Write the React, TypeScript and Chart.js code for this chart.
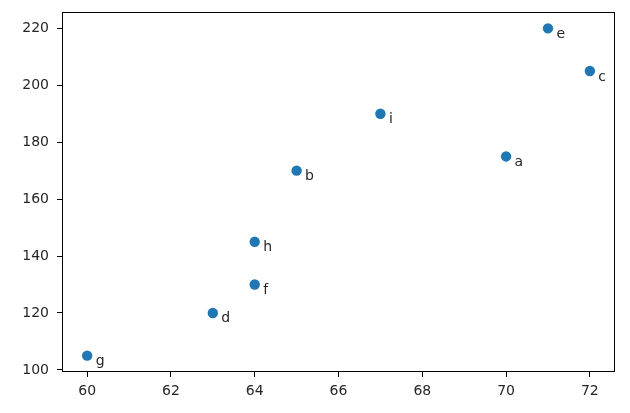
import React, { useEffect, useRef } from "react";
import { Chart, registerables } from "chart.js";

Chart.register(...registerables);

const pointLabels = ["a", "b", "c", "d", "e", "f", "g", "h", "i"];
const xValues = [70, 65, 72, 63, 71, 64, 60, 64, 67];
const yValues = [175, 170, 205, 120, 220, 130, 105, 145, 190];
const xTicks = [60, 62, 64, 66, 68, 70, 72];
const yTicks = [100, 120, 140, 160, 180, 200, 220];

const FONT = "DejaVu Sans";
const TEXT = "#262626";

export default function App() {
  const ref = useRef<HTMLCanvasElement | null>(null);

  useEffect(() => {
    document.body.style.margin = "0";
    const canvas = ref.current;
    if (!canvas) return;

    const spines = {
      id: "spines",
      afterDatasetsDraw(chart: any) {
        const { ctx, chartArea } = chart;
        ctx.save();
        ctx.strokeStyle = "#000";
        ctx.lineWidth = 1;
        ctx.strokeRect(
          Math.round(chartArea.left) + 0.5,
          Math.round(chartArea.top) + 0.5,
          Math.round(chartArea.right - chartArea.left) - 1,
          Math.round(chartArea.bottom - chartArea.top) - 1
        );
        ctx.restore();
      },
    };

    const annotations = {
      id: "annotations",
      afterDatasetsDraw(chart: any) {
        const { ctx, scales } = chart;
        ctx.save();
        ctx.fillStyle = TEXT;
        ctx.font = `14px "${FONT}"`;
        ctx.textAlign = "left";
        ctx.textBaseline = "alphabetic";
        pointLabels.forEach((lab, i) => {
          const px = scales.x.getPixelForValue(xValues[i]);
          const py = scales.y.getPixelForValue(yValues[i]);
          ctx.fillText(lab, px + 8.5, py + 9.5);
        });
        ctx.restore();
      },
    };

    const chart = new Chart(canvas, {
      type: "scatter",
      data: {
        datasets: [
          {
            data: xValues.map((x, i) => ({ x, y: yValues[i] })),
            backgroundColor: "#1f77b4",
            borderColor: "#1f77b4",
            borderWidth: 0,
            pointRadius: 5.2,
            pointHoverRadius: 5.2,
          },
        ],
      },
      options: {
        responsive: false,
        animation: false,
        events: [],
        layout: { padding: { top: 12, right: 15, left: 0, bottom: 0 } },
        plugins: {
          legend: { display: false },
          tooltip: { enabled: false },
        },
        scales: {
          x: {
            type: "linear",
            min: 59.4,
            max: 72.6,
            afterBuildTicks: (s: any) => {
              s.ticks = xTicks.map((v) => ({ value: v }));
            },
            afterFit: (s: any) => {
              s.height = 41;
              s.paddingLeft = 0;
              s.paddingRight = 0;
            },
            grid: {
              display: true,
              drawOnChartArea: false,
              drawTicks: true,
              tickLength: 5,
              color: "#000",
              lineWidth: 1,
            },
            border: { display: false },
            ticks: {
              color: TEXT,
              font: { family: FONT, size: 14 },
              padding: 6,
              maxRotation: 0,
              autoSkip: false,
            },
          },
          y: {
            type: "linear",
            min: 99.25,
            max: 225.75,
            afterBuildTicks: (s: any) => {
              s.ticks = yTicks.map((v) => ({ value: v }));
            },
            afterFit: (s: any) => {
              s.width = 62;
              s.paddingTop = 0;
              s.paddingBottom = 0;
            },
            grid: {
              display: true,
              drawOnChartArea: false,
              drawTicks: true,
              tickLength: 5,
              color: "#000",
              lineWidth: 1,
            },
            border: { display: false },
            ticks: {
              color: TEXT,
              font: { family: FONT, size: 14 },
              padding: 8,
              autoSkip: false,
            },
          },
        },
      },
      plugins: [spines, annotations],
    });

    return () => chart.destroy();
  }, []);

  return (
    <div style={{ width: 630, height: 413, background: "#fff" }}>
      <canvas ref={ref} width={630} height={413} style={{ display: "block" }} />
    </div>
  );
}
